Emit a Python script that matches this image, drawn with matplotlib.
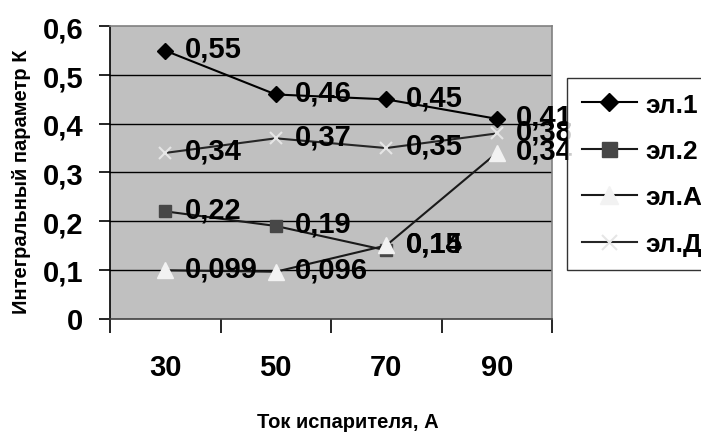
import numpy as np
import matplotlib
matplotlib.use("Agg")
import matplotlib.pyplot as plt
from matplotlib.ticker import FixedLocator, FuncFormatter

plt.rcParams['font.family'] = ['Liberation Sans', 'DejaVu Sans']
plt.rcParams['font.weight'] = 'bold'

# Data
currents = ["30", "50", "70", "90"]
el1 = [0.55, 0.46, 0.45, 0.41]
el2 = [0.22, 0.19, 0.14, np.nan]
elA = [0.099, 0.096, 0.15, 0.34]
elD = [0.34, 0.37, 0.35, 0.38]
series_names = ["эл.1", "эл.2", "эл.А", "эл.Д"]
y_ticks = [0, 0.1, 0.2, 0.3, 0.4, 0.5, 0.6]

W, H = 701, 435
fig = plt.figure(figsize=(W / 100, H / 100), dpi=100)
ax = fig.add_axes([110 / W, 1 - 319.5 / H, (552 - 110) / W, (319.5 - 27.3) / H])
ax.set_facecolor('#c0c0c0')

x = np.arange(len(currents))

styles = [
    dict(color='black', marker='D', markersize=8, markerfacecolor='black',
         markeredgecolor='black'),
    dict(color='#1a1a1a', marker='s', markersize=9, markerfacecolor='#474747',
         markeredgecolor='#474747'),
    dict(color='#1a1a1a', marker='^', markersize=11, markerfacecolor='#f2f2f2',
         markeredgecolor='#f2f2f2'),
    dict(color='#262626', marker='x', markersize=9, markeredgecolor='#e6e6e6',
         markeredgewidth=1.5),
]

all_series = [el1, el2, elA, elD]
for vals, name, st in zip(all_series, series_names, styles):
    ax.plot(x, vals, lw=1.5, label=name, zorder=3, **st)

# value labels; the two labels at 70 A share one line, as in the source layout
for si, vals in enumerate(all_series):
    for xi, v in zip(x, vals):
        if np.isnan(v):
            continue
        dy = 1.5
        if si == 1 and xi == 2:
            dy += 3.5
        ax.annotate(f"{v:g}".replace('.', ','), (xi, v), xytext=(14, dy),
                    textcoords='offset points', ha='left', va='center',
                    fontsize=21, fontweight='bold', zorder=5)

ax.set_xlim(-0.5, len(currents) - 0.5)
ax.set_ylim(0, 0.6)

# gridlines
for yv in y_ticks[1:-1]:
    ax.axhline(yv, color='black', lw=1, zorder=1)

# spines
ax.spines['top'].set_color('#808080')
ax.spines['right'].set_color('#808080')
ax.spines['left'].set_color('black')
ax.spines['bottom'].set_color('#404040')
for s in ax.spines.values():
    s.set_linewidth(1.2)

ax.yaxis.set_major_locator(FixedLocator(y_ticks))
ax.yaxis.set_major_formatter(FuncFormatter(lambda v, p: f"{v:g}".replace('.', ',')))
ax.tick_params(axis='y', length=8, width=1.2, color='black', pad=11,
               labelsize=21)

ax.set_xticks(x)
ax.set_xticklabels(currents)
ax.set_xticks(np.arange(-0.5, len(currents)), minor=True)
ax.tick_params(axis='x', which='major', length=0, pad=25, labelsize=21)
ax.tick_params(axis='x', which='minor', length=10, width=1.2, color='black')
for lbl in ax.get_xticklabels() + ax.get_yticklabels():
    lbl.set_fontweight('bold')

fig.text(348 / W, 1 - 423 / H, "Ток испарителя, А", ha='center', va='center',
         fontsize=14.5, fontweight='bold')
fig.text(22 / W, 1 - 182 / H, "Интегральный параметр К", ha='center',
         va='center', rotation=90, fontsize=14.5, fontweight='bold')

leg = fig.legend(loc='upper left', bbox_to_anchor=(567 / W, 1 - 79 / H),
                 frameon=True, fancybox=False, shadow=False, fontsize=19,
                 handlelength=2.1, handletextpad=0.3, labelspacing=0.85,
                 borderpad=0.55, borderaxespad=0, markerscale=1.2)
leg.get_frame().set_edgecolor('black')
leg.get_frame().set_linewidth(1)
for t in leg.get_texts():
    t.set_fontweight('bold')

fig.savefig('out.png', dpi=100)
